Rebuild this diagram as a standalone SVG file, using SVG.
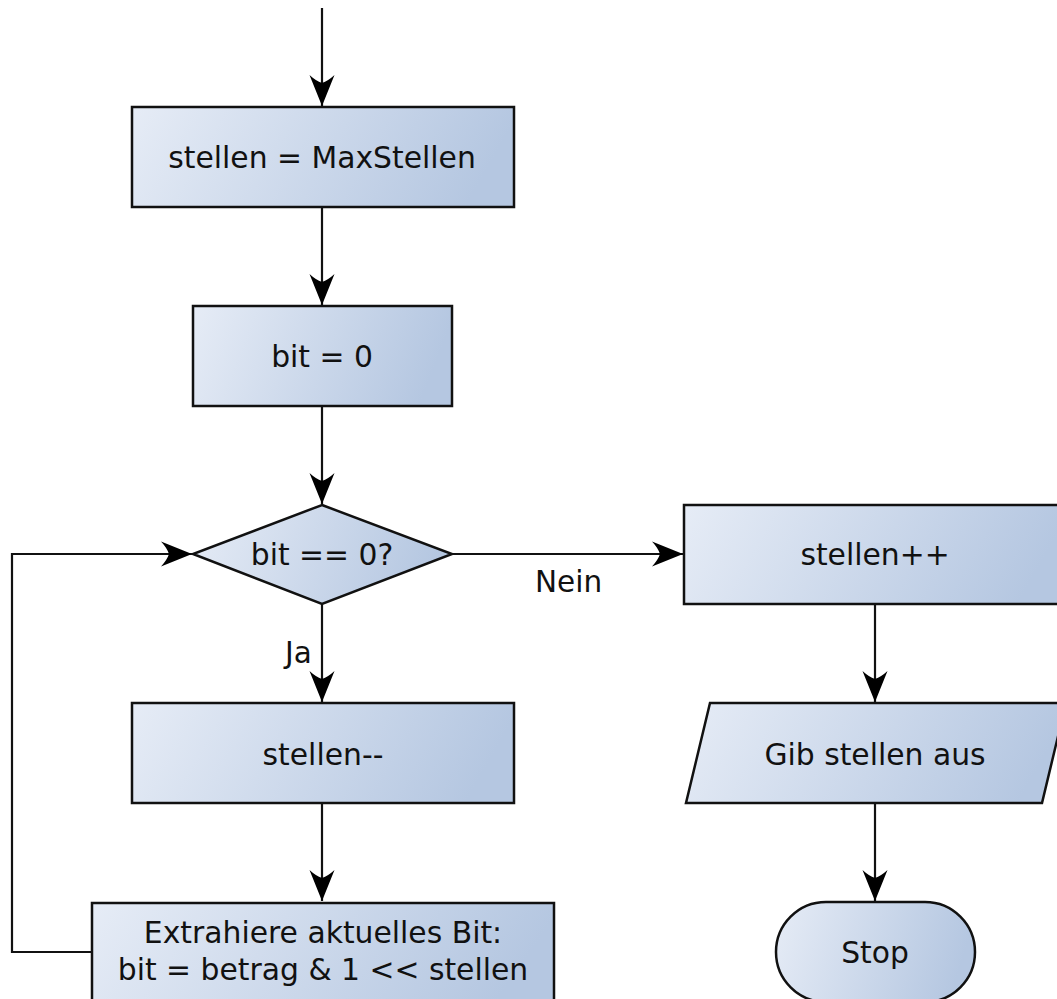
<svg xmlns="http://www.w3.org/2000/svg" width="1057" height="999" viewBox="0 0 1057 999">
<style>
.n{fill:url(#g);stroke:#111;stroke-width:2.5}
.t{font-family:"DejaVu Sans",sans-serif;font-size:29.8px;fill:#111;text-anchor:middle}
.l{font-family:"DejaVu Sans",sans-serif;font-size:29.5px;fill:#111}
.c{fill:none;stroke:#111;stroke-width:2.2;marker-end:url(#a)}
</style>
<defs>
<linearGradient id="g" x1="0" y1="0" x2="1" y2="0.15">
<stop offset="0" stop-color="#e6ecf6"/>
<stop offset="1" stop-color="#b5c7e1"/>
</linearGradient>
<marker id="a" markerUnits="userSpaceOnUse" markerWidth="40" markerHeight="30" viewBox="-32 -15 34 30" refX="0" refY="0" orient="auto">
<path d="M0,0 L-31,-12.5 Q-25,-6 -23,0 Q-25,6 -31,12.5 Z" fill="#000"/>
</marker>
</defs>
<g id="connectors">
<path class="c" d="M322,8 V106"/>
<path class="c" d="M322,207 V305"/>
<path class="c" d="M322,406 V504"/>
<path class="c" d="M322,604 V702"/>
<path class="c" d="M322,803 V901"/>
<path class="c" d="M92,952 H12 V554 H192"/>
<path class="c" d="M452,554 H683"/>
<path class="c" d="M875,604 V702"/>
<path class="c" d="M875,803 V901"/>
<text class="l" x="535" y="592">Nein</text>
<text class="l" x="285" y="663">Ja</text>
</g>
<g id="n1"><rect class="n" x="132" y="107" width="382" height="100"/><text class="t" x="322" y="168">stellen = MaxStellen</text></g>
<g id="n2"><rect class="n" x="193" y="306" width="259" height="100"/><text class="t" x="322" y="367">bit = 0</text></g>
<g id="n3"><polygon class="n" points="322,505 452,554 322,604 193,554"/><text class="t" x="322" y="565">bit == 0?</text></g>
<g id="n4"><rect class="n" x="132" y="703" width="382" height="100"/><text class="t" x="323" y="765">stellen--</text></g>
<g id="n5"><rect class="n" x="92" y="903" width="462" height="100"/><text class="t" x="323" y="943">Extrahiere aktuelles Bit:</text><text class="t" x="323" y="980">bit = betrag &amp; 1 &lt;&lt; stellen</text></g>
<g id="n6"><rect class="n" x="684" y="505" width="382" height="99"/><text class="t" x="875" y="565">stellen++</text></g>
<g id="n7"><polygon class="n" points="710,703 1066,703 1042,803 686,803"/><text class="t" x="875" y="765">Gib stellen aus</text></g>
<g id="n8"><rect class="n" x="776" y="902" width="199" height="100" rx="50" ry="50"/><text class="t" x="875" y="963">Stop</text></g>
</svg>
